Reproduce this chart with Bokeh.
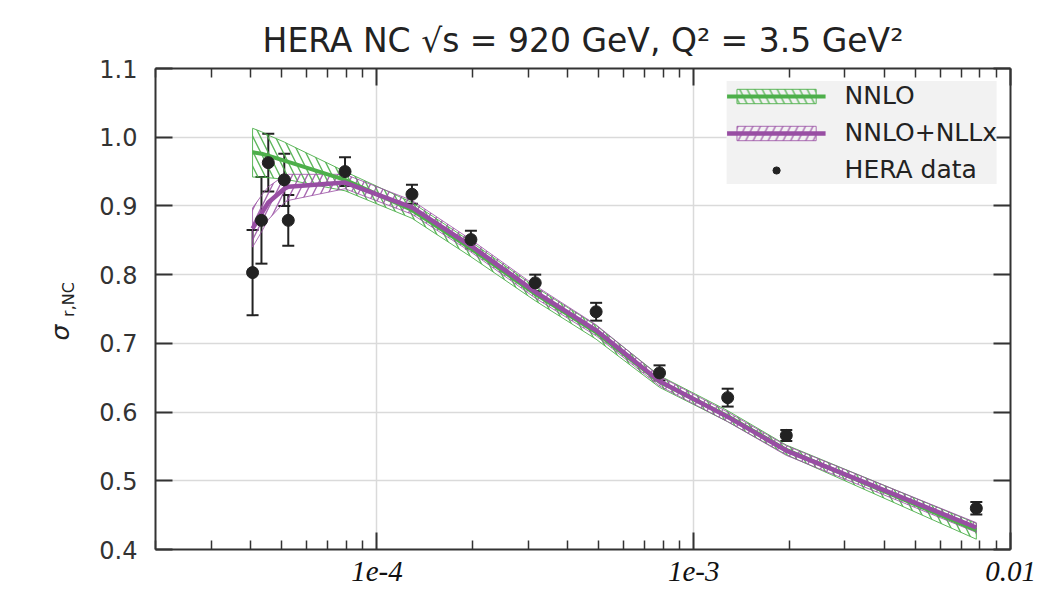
import math
from bokeh.plotting import figure
from bokeh.layouts import row
from bokeh.core.properties import value
from bokeh.models import (FixedTicker, PrintfTickFormatter, CustomJSTickFormatter, LogAxis,
                          LinearAxis, Legend, LegendItem, Whisker, ColumnDataSource, TeeHead)
from bokeh.embed import file_html
from bokeh.resources import INLINE

# ---------------- data ----------------
data_x = [4.05e-5, 4.32e-5, 4.54e-5, 5.1e-5, 5.25e-5, 7.93e-5, 1.29e-4, 1.98e-4,
          3.16e-4, 4.92e-4, 7.8e-4, 1.28e-3, 1.96e-3, 7.8e-3]
data_y = [0.803, 0.879, 0.963, 0.938, 0.879, 0.950, 0.917, 0.851,
          0.788, 0.746, 0.657, 0.621, 0.566, 0.460]
data_err = [0.062, 0.063, 0.042, 0.038, 0.037, 0.021, 0.014, 0.013,
            0.012, 0.013, 0.011, 0.013, 0.008, 0.009]

theory_x = data_x
nnlo_c = [0.978, 0.976, 0.973, 0.966, 0.964, 0.938, 0.894, 0.838, 0.772, 0.716, 0.644, 0.594, 0.545, 0.428]
nnlo_hi = [1.013, 1.008, 1.003, 0.993, 0.990, 0.950, 0.905, 0.848, 0.782, 0.726, 0.653, 0.602, 0.552, 0.438]
nnlo_lo = [0.942, 0.942, 0.941, 0.939, 0.938, 0.922, 0.882, 0.826, 0.762, 0.706, 0.636, 0.586, 0.538, 0.415]

nll_c = [0.867, 0.889, 0.905, 0.925, 0.928, 0.934, 0.898, 0.842, 0.775, 0.719, 0.645, 0.593, 0.544, 0.432]
nll_hi = [0.897, 0.915, 0.928, 0.944, 0.946, 0.946, 0.908, 0.851, 0.784, 0.727, 0.652, 0.600, 0.551, 0.439]
nll_lo = [0.840, 0.862, 0.880, 0.905, 0.908, 0.925, 0.888, 0.833, 0.766, 0.711, 0.638, 0.586, 0.537, 0.425]

x_major = [1e-4, 1e-3, 1e-2]
x_major_labels = ["1e-4", "1e-3", "0.01"]
x_minor = [m * 10.0 ** e for e in (-5, -4, -3) for m in range(2, 10)]
y_ticks = [0.4, 0.5, 0.6, 0.7, 0.8, 0.9, 1.0, 1.1]

GREEN = "#4daf4a"
PURPLE = "#984ea3"
DARK = "#222222"
AXC = "#333333"
FONT = "DejaVu Sans"

H = 595
TOP = 68          # top of the plotting frame, in pixels
LEFT_W = 90

# ---------------- narrow strip holding the y-axis title ----------------
strip = figure(frame_width=LEFT_W, frame_height=H - TOP, x_range=(0, LEFT_W), y_range=(0, H - TOP),
               title=None, x_axis_location=None, y_axis_location=None,
               output_backend="svg", toolbar_location=None,
               min_border=0, min_border_left=0, min_border_right=0, min_border_top=0, min_border_bottom=0)
strip.grid.visible = False
strip.outline_line_color = None
strip.background_fill_color = "white"
strip.border_fill_color = "white"
strip.text(x=[60], y=[H - 332], text=["\u03c3"], angle=math.pi / 2,
           text_font=value(FONT), text_font_size="25px", text_font_style="italic",
           text_color="#222222", text_align="center", text_baseline="middle")
strip.text(x=[68], y=[H - 299], text=["r,NC"], angle=math.pi / 2,
           text_font=value(FONT), text_font_size="16px",
           text_color="#222222", text_align="center", text_baseline="middle")
strip.text(x=[52], y=[H - 535], text=["\u03c2"],
           text_font=value(FONT), text_font_size="11px",
           text_color="#333333", text_align="center", text_baseline="middle")

# ---------------- main figure ----------------
p = figure(width=1057 - LEFT_W, height=H, x_axis_type="log", x_range=(2e-5, 1e-2), y_range=(0.4, 1.1),
           output_backend="svg", toolbar_location=None,
           min_border_left=155 - LEFT_W, min_border_right=47, min_border_top=TOP, min_border_bottom=46)
p.outline_line_color = None
p.background_fill_color = "white"
p.border_fill_color = "white"

p.title.text = "HERA NC \u221as = 920 GeV, Q\u00b2 = 3.5 GeV\u00b2"
p.title.align = "center"
p.title.offset = 3
p.title.text_font = FONT
p.title.text_font_size = "33px"
p.title.text_font_style = "normal"
p.title.text_color = "#222222"
p.title.standoff = 18

xa = p.xaxis[0]
xa.ticker = FixedTicker(ticks=x_major, minor_ticks=x_minor)
xa.formatter = CustomJSTickFormatter(args=dict(labs=x_major_labels, vals=x_major), code="""
    for (let i = 0; i < vals.length; i++) { if (Math.abs(Math.log10(tick) - Math.log10(vals[i])) < 1e-6) return labs[i]; }
    return '';
""")
ya = p.yaxis[0]
ya.ticker = FixedTicker(ticks=y_ticks)
ya.formatter = PrintfTickFormatter(format="%.1f")

top = LogAxis(ticker=FixedTicker(ticks=x_major, minor_ticks=x_minor))
right = LinearAxis(ticker=FixedTicker(ticks=y_ticks))
p.add_layout(top, "above")
p.add_layout(right, "right")

for ax in (xa, ya, top, right):
    ax.axis_line_color = AXC
    ax.axis_line_width = 2
    ax.major_tick_line_color = AXC
    ax.major_tick_line_width = 2
    ax.minor_tick_line_color = AXC
    ax.minor_tick_line_width = 1.5
    ax.major_tick_in = 17
    ax.major_tick_out = 0
    ax.minor_tick_in = 9
    ax.minor_tick_out = 0
for ax in (top, right):
    ax.major_label_text_font_size = "0px"
    ax.major_label_standoff = 0
    ax.major_label_text_alpha = 0
ya.minor_tick_line_color = None
right.minor_tick_line_color = None

ya.major_label_text_font = FONT
ya.major_label_text_font_size = "24px"
ya.major_label_text_color = "#333333"
ya.major_label_standoff = 18

xa.major_label_text_font = "Liberation Serif"
xa.major_label_text_font_style = "italic"
xa.major_label_text_font_size = "29px"
xa.major_label_text_color = "#111111"
xa.major_label_standoff = 12

p.xgrid.ticker = FixedTicker(ticks=x_major)
p.ygrid.ticker = FixedTicker(ticks=y_ticks)
for g in (p.xgrid[0], p.ygrid[0]):
    g.grid_line_color = "#dadada"
    g.grid_line_width = 1.5

# ---------------- bands ----------------
band_x = list(theory_x) + list(reversed(theory_x))
g_band = p.patch(band_x, list(nnlo_hi) + list(reversed(nnlo_lo)),
                 fill_alpha=0, line_color=GREEN, line_width=1, line_alpha=0.9,
                 hatch_pattern="\\", hatch_color=GREEN, hatch_alpha=0.9, hatch_scale=15, hatch_weight=1.4)
p_band = p.patch(band_x, list(nll_hi) + list(reversed(nll_lo)),
                 fill_alpha=0, line_color=PURPLE, line_width=1, line_alpha=0.8,
                 hatch_pattern="/", hatch_color=PURPLE, hatch_alpha=0.85, hatch_scale=15, hatch_weight=1.4)
g_line = p.line(theory_x, nnlo_c, line_color=GREEN, line_width=4)
p_line = p.line(theory_x, nll_c, line_color=PURPLE, line_width=4.5)

# ---------------- data points ----------------
src = ColumnDataSource(dict(x=data_x, y=data_y,
                            lo=[v - e for v, e in zip(data_y, data_err)],
                            hi=[v + e for v, e in zip(data_y, data_err)]))
wh = Whisker(base="x", lower="lo", upper="hi", source=src, line_color=DARK, line_width=2,
             upper_head=TeeHead(size=12, line_color=DARK, line_width=2),
             lower_head=TeeHead(size=12, line_color=DARK, line_width=2))
p.add_layout(wh)
pts = p.scatter("x", "y", source=src, size=12, marker="circle", fill_color=DARK, line_color=DARK)

# ---------------- legend ----------------
legend = Legend(items=[
    LegendItem(label="NNLO", renderers=[g_band, g_line]),
    LegendItem(label="NNLO+NLLx", renderers=[p_band, p_line]),
    LegendItem(label="HERA data", renderers=[pts]),
], location="top_right")
legend.background_fill_color = "#f2f2f2"
legend.background_fill_alpha = 1
legend.border_line_color = None
legend.label_text_font = FONT
legend.label_text_font_size = "25px"
legend.label_text_color = "#222222"
legend.glyph_width = 99
legend.glyph_height = 18
legend.label_height = 24
legend.label_standoff = 19
legend.spacing = 8
legend.padding = 9
legend.margin = 13
p.add_layout(legend)

layout = row(strip, p, spacing=0)
open("out.html", "w").write(file_html(layout, INLINE))
